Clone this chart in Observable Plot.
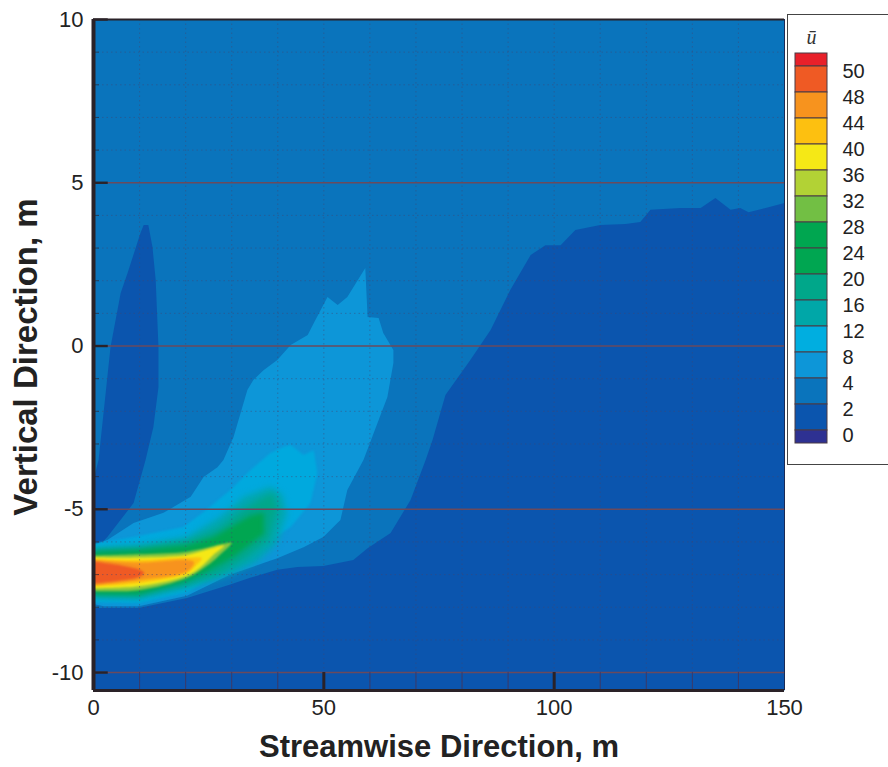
<!DOCTYPE html>
<html>
<head>
<meta charset="utf-8">
<script src="https://cdn.jsdelivr.net/npm/d3@7"></script>
<script src="https://cdn.jsdelivr.net/npm/@observablehq/plot@0.6"></script>
<style>
html,body{margin:0;padding:0;background:#fff;width:888px;height:767px;overflow:hidden}
#chart{position:absolute;left:0;top:0}
#legend{position:absolute;left:787px;top:14px;width:101px;height:451px;background:#fff;border:1px solid #444;border-right:none;box-sizing:border-box}
svg{display:block;font-family:"Liberation Sans",Arial,sans-serif}
.edge{filter:blur(0.6px)}
.soft{filter:blur(1.2px)}
.softer{filter:blur(2.4px)}
.softest{filter:blur(3.2px)}
</style>
</head>
<body>
<div id="chart"></div>
<div id="legend"></div>
<script>
const xTicks = [0, 50, 100, 150];
const yTicks = [10, 5, 0, -5, -10];
const xDomain = [0, 150];
const yDomain = [-10.55, 10];

const legendLabels = ["50","48","44","40","36","32","28","24","20","16","12","8","4","2","0"];
const legendColors = ["#e8202a","#ef5a24","#f7931e","#fdc010","#f5e816","#b2d235","#72bf44","#00a650","#00a651","#00a78a","#00a7a8","#00aee0","#0d96d8","#0a74bc","#0b55ae","#2e3192"];

const low = [[0,-8.02],[9.8,-8.02],[20.3,-7.72],[29.7,-7.3],[34,-7.1],[39.9,-6.85],[44.3,-6.77],[49.9,-6.74],[56.4,-6.55],[59.5,-6.19],[64.5,-5.73],[68.8,-4.72],[72.1,-3.49],[73.6,-2.88],[76.4,-1.5],[81.8,-0.43],[86.2,0.49],[90.5,1.72],[94.9,2.79],[98.1,3.09],[101.4,3.09],[104.6,3.55],[110,3.71],[115.5,3.74],[118.7,3.8],[120.9,4.17],[127.4,4.23],[131.8,4.23],[135,4.53],[138.3,4.17],[140.4,4.23],[142.2,4.1],[145.9,4.23],[150,4.38],[150,-10.55],[0,-10.55]];
const bullet = [[0,-4.1],[1.1,-3.49],[3.7,-0.03],[5.9,1.62],[7.4,2.24],[10.2,3.46],[10.9,3.71],[11.9,3.71],[12.8,3.03],[13.5,2.02],[14.1,-0.03],[14.1,-1.26],[13,-2.48],[11.3,-3.49],[8.7,-4.81],[3,-5.85],[0.9,-6.16],[0,-6.25]];
const band8 = [[0,-6.1],[3,-5.94],[8.7,-5.42],[15.2,-5.11],[21.1,-4.62],[23.9,-4.01],[26.9,-3.71],[28.2,-3.49],[30.4,-2.79],[33.4,-1.35],[34.7,-1.04],[36.9,-0.74],[39.9,-0.43],[42.8,0.03],[46.5,0.34],[47.8,0.7],[50.8,1.5],[53,1.26],[55.1,1.5],[59,2.39],[59.5,0.89],[61.9,0.86],[62.9,0.4],[65.1,-0.12],[65.1,-0.52],[63.8,-1.56],[58.6,-3.49],[55.1,-4.41],[53.6,-5.33],[49.9,-5.85],[45.6,-6.16],[39.9,-6.5],[29.7,-7.0],[20.3,-7.65],[9.8,-7.97],[2.2,-7.97],[0,-7.9]];
const band12 = [[0,-6.05],[8.7,-5.85],[19.5,-5.54],[23.9,-5.08],[29.7,-4.41],[34.1,-3.8],[38.4,-3.28],[41.2,-3.09],[42.8,-3.03],[45.6,-3.34],[47.8,-3.19],[48.6,-3.89],[47.1,-4.81],[42.8,-5.54],[38.4,-5.94],[31.3,-6.6],[20.3,-7.55],[9.8,-7.88],[0,-7.85]];
const band16 = [[0,-6.2],[9.8,-6.1],[20.3,-5.85],[27.5,-5.23],[32.6,-4.62],[38.4,-4.31],[41,-4.55],[42,-5.13],[39.8,-6.05],[35.5,-6.6],[29.7,-7.0],[20.3,-7.42],[9.8,-7.73],[0,-7.7]];
const band20 = [[0,-6.25],[9.8,-6.18],[20.3,-5.98],[27,-5.6],[31.5,-5.1],[36,-4.7],[39,-4.5],[40,-5],[38,-5.95],[33,-6.5],[27,-7.0],[20.3,-7.32],[9.8,-7.67],[0,-7.65]];
const band24 = [[0,-6.3],[9.8,-6.25],[20.3,-6.1],[26.1,-5.85],[30.4,-5.5],[34,-5.2],[37,-5.1],[37,-5.75],[30.4,-6.45],[24.7,-6.9],[20.3,-7.2],[9.8,-7.6],[0,-7.6]];
const band32 = [[0,-6.42],[9.8,-6.38],[20.3,-6.3],[28.5,-6.05],[30,-6.02],[27,-6.45],[24.7,-6.72],[20.3,-7.1],[9.8,-7.48],[0,-7.5]];
const band40 = [[0,-6.48],[9.8,-6.48],[20.3,-6.4],[25,-6.22],[28.3,-6.12],[26,-6.4],[24,-6.68],[20.3,-7.03],[9.8,-7.36],[0,-7.42]];
const band44 = [[0,-6.52],[9.8,-6.56],[20.3,-6.48],[23.5,-6.5],[22,-6.75],[20.3,-6.96],[9.8,-7.26],[0,-7.36]];
const band48 = [[0,-6.55],[9.8,-6.63],[20.3,-6.55],[21.8,-6.62],[20.3,-6.9],[9.8,-7.17],[0,-7.32]];
const band50 = [[0,-6.6],[6,-6.72],[10,-6.85],[11,-6.95],[9.8,-7.08],[0,-7.27]];

const topColor = "#0a74bc";
const dark = "#0b55ae";
const grid = "#44446e";
const ink = "#2a2228";

const poly = (pts, fill, className, curve = "linear") => Plot.line(pts, {fill, stroke: "none", clip: true, className, curve});

const plot = Plot.plot({
  width: 888, height: 767,
  marginLeft: 93, marginRight: 104, marginTop: 19, marginBottom: 77,
  style: {background: "transparent", color: "#222"},
  x: {domain: xDomain},
  y: {domain: yDomain},
  marks: [
    Plot.frame({fill: topColor, stroke: "none"}),
    poly(low, dark, "edge"),
    poly(bullet, dark, "edge"),
    poly(band8, "#0d96d8", "edge"),
    poly(band12, "#00a9de", "soft"),
    poly(band16, "#00a7b0", "softest"),
    poly(band20, "#00a78a", "softest"),
    poly(band24, "#00a651", "softer"),
    poly(band32, "#8cc63f", "soft", "catmull-rom"),
    poly(band40, "#f5e816", "soft", "catmull-rom"),
    poly(band44, "#fdc010", "soft", "catmull-rom"),
    poly(band48, "#f7931e", "soft", "catmull-rom"),
    poly(band50, "#ef5a24", "soft", "catmull-rom"),
    Plot.ruleX(d3.range(10, 150, 10), {stroke: grid, strokeWidth: 1, strokeDasharray: "1.5 3", strokeOpacity: 0.45}),
    Plot.ruleY(d3.range(-10, 10, 1).filter(v => v % 5 !== 0), {stroke: grid, strokeWidth: 1, strokeDasharray: "1.5 3", strokeOpacity: 0.45}),
    Plot.ruleY([5, 0, -5, -10], {stroke: "#6b4a5c", strokeWidth: 1.6}),
    Plot.ruleY(d3.range(-10, 10, 1), {x1: 0, x2: 1.3, stroke: ink, strokeWidth: 1, strokeOpacity: 0.6}),
    Plot.ruleY(yTicks, {x1: 0, x2: 3.2, stroke: ink, strokeWidth: 2.4}),
    Plot.ruleX(d3.range(10, 150, 10), {y1: -10.55, y2: -10, stroke: "#3a3a6a", strokeWidth: 1}),
    Plot.ruleX([50, 100], {y1: -10.55, y2: -10, stroke: ink, strokeWidth: 3}),
    Plot.ruleY([10], {stroke: ink, strokeWidth: 2}),
    Plot.ruleX([150], {stroke: "#1a2a55", strokeWidth: 1}),
    Plot.ruleX([0], {stroke: ink, strokeWidth: 4}),
    Plot.ruleY([-10.55], {stroke: ink, strokeWidth: 3}),
    Plot.axisX({ticks: xTicks, tickFormat: String, tickSize: 0, tickPadding: 9, fontSize: 22, label: null}),
    Plot.axisY({ticks: yTicks, tickFormat: String, tickSize: 0, tickPadding: 10, fontSize: 22, label: null}),
    Plot.text(["Streamwise Direction, m"], {frameAnchor: "bottom", lineAnchor: "middle", dy: 57, fontSize: 31, fontWeight: "bold", fill: "#222"}),
    Plot.text(["Vertical Direction, m"], {frameAnchor: "left", textAnchor: "middle", lineAnchor: "middle", rotate: -90, dx: -67, dy: 2, fontSize: 33, fontWeight: "bold", fill: "#222"})
  ]
});
document.getElementById("chart").append(plot);

const cellIndex = legendColors.map((c, i) => i);
const legend = Plot.plot({
  width: 99, height: 449,
  marginLeft: 0, marginRight: 0, marginTop: 0, marginBottom: 0,
  style: {background: "transparent", color: "#222"},
  x: {domain: [0, 1], range: [7, 39], axis: null},
  y: {domain: [0, 14], range: [51, 415], axis: null},
  marks: [
    Plot.rect(cellIndex, {
      x1: 0, x2: 1,
      y1: i => i === 0 ? -0.5 : i - 1,
      y2: i => i === 15 ? 14.5 : i,
      fill: i => legendColors[i],
      stroke: "#4a3a44", strokeWidth: 1
    }),
    Plot.text(legendLabels, {x: 1, y: (d, i) => i, dx: 15, dy: 5, text: d => d, textAnchor: "start", fontSize: 20, fill: "#222"}),
    Plot.text(["ū"], {x: 0.5, y: -1.1, fontSize: 20, fontStyle: "italic", fontFamily: "Liberation Serif", fill: "#333"})
  ]
});
document.getElementById("legend").append(legend);
</script>
</body>
</html>
